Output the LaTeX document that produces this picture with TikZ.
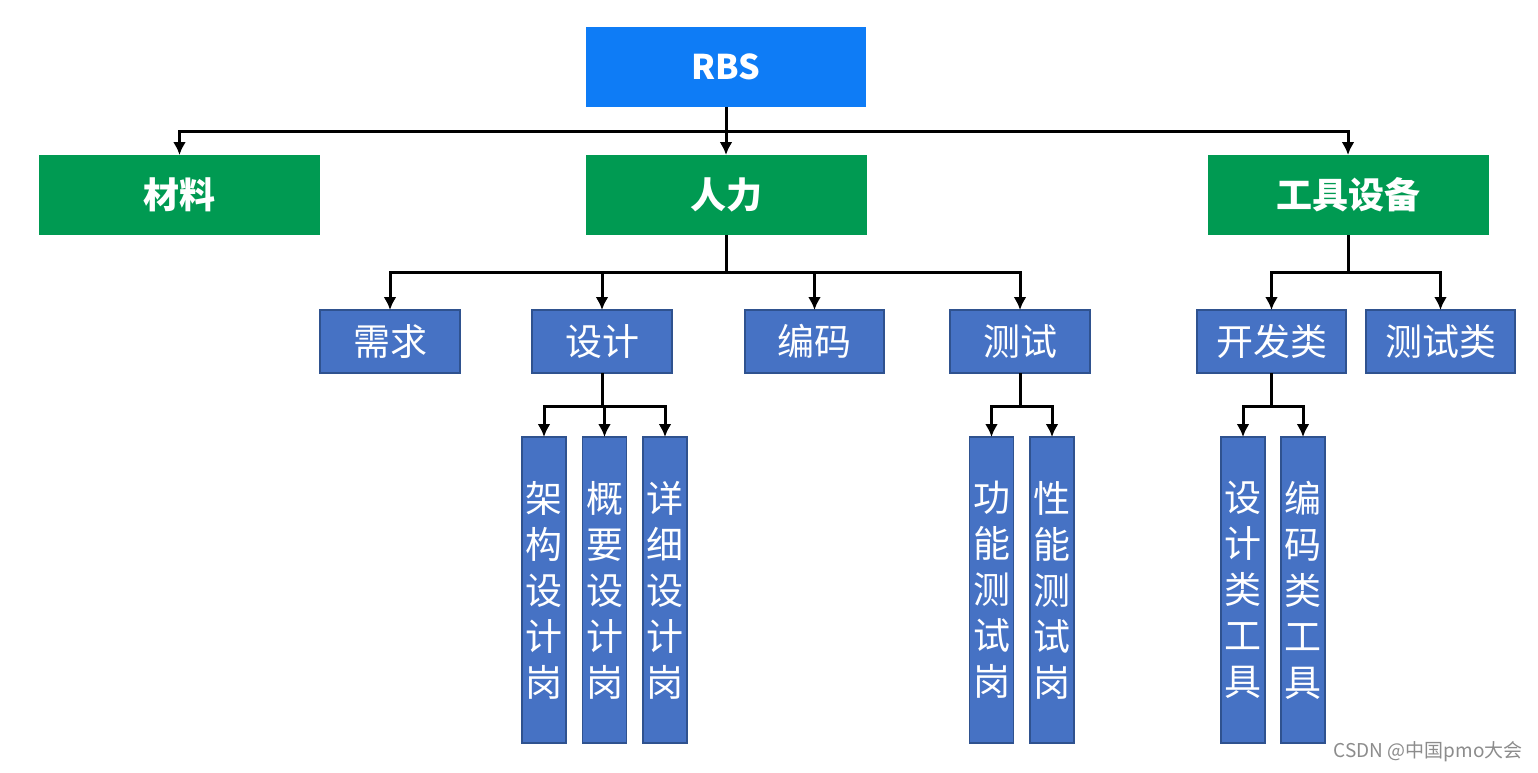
\documentclass[tikz,border=0pt]{standalone}
\usepackage{fontspec}
\setmainfont{Noto Sans CJK SC}
\usetikzlibrary{arrows.meta}
\definecolor{rbsblue}{RGB}{14,124,246}
\definecolor{lvgreen}{RGB}{0,154,82}
\definecolor{lvblue}{RGB}{70,114,196}
\definecolor{lvborder}{RGB}{47,82,143}
\begin{document}
\begin{tikzpicture}[x=1pt,y=-1pt,
  base/.style={inner sep=0pt, outer sep=0pt, text=white, align=center},
  topbox/.style={base, fill=rbsblue, minimum width=280pt, minimum height=80pt, font=\fontsize{34}{40}\selectfont\bfseries},
  greenbox/.style={base, fill=lvgreen, minimum width=281pt, minimum height=80pt, font=\fontsize{36}{40}\selectfont\bfseries},
  bluebox/.style={base, fill=lvblue, draw=lvborder, line width=1.2pt, minimum height=63pt, font=\fontsize{37}{40}\selectfont},
  vbox/.style={base, fill=lvblue, draw=lvborder, line width=1.2pt, minimum width=44pt, minimum height=306pt, font=\fontsize{37}{46}\selectfont},
  conn/.style={line width=3pt, black},
  arr/.style={conn, -{Latex[length=13pt,width=13pt]}}
]
\useasboundingbox (0,0) rectangle (1538,773);
\fill[white] (0,0) rectangle (1538,773);

% level 0
\node[topbox] (rbs) at (726,67) {RBS};
% level 1
\node[greenbox] (cl) at (179.5,195) {材料};
\node[greenbox] (rl) at (726,195) {人力};
\node[greenbox] (gj) at (1348,195) {工具设备};
% level 2
\node[bluebox, minimum width=140pt] (xq) at (390,341.5) {需求};
\node[bluebox, minimum width=140pt] (sj) at (602,341.5) {设计};
\node[bluebox, minimum width=139pt] (bm) at (814.5,341.5) {编码};
\node[bluebox, minimum width=140pt] (cs) at (1020,341.5) {测试};
\node[bluebox, minimum width=149pt] (kf) at (1271.5,341.5) {开发类};
\node[bluebox, minimum width=149pt] (csl) at (1440.5,341.5) {测试类};
% level 3
\node[vbox] (jg) at (544,590) {架\\构\\设\\计\\岗};
\node[vbox] (gy) at (604.5,590) {概\\要\\设\\计\\岗};
\node[vbox] (xx) at (665,590) {详\\细\\设\\计\\岗};
\node[vbox] (gn) at (991.5,590) {功\\能\\测\\试\\岗};
\node[vbox] (xn) at (1052,590) {性\\能\\测\\试\\岗};
\node[vbox] (sjgj) at (1243,590) {设\\计\\类\\工\\具};
\node[vbox] (bmgj) at (1303,590) {编\\码\\类\\工\\具};

% connectors
\coordinate (b0) at (726,131);
\draw[conn] (rbs.south) -- (b0);
\draw[arr] (b0) -| (cl.north);
\draw[arr] (b0) -- (rl.north);
\draw[arr] (b0) -| (gj.north);

\coordinate (b1) at (726,272);
\draw[conn] (rl.south) -- (b1);
\draw[arr] (b1) -| (xq.north);
\draw[arr] (b1) -| (sj.north);
\draw[arr] (b1) -| (bm.north);
\draw[arr] (b1) -| (cs.north);

\coordinate (b2) at (1348,272);
\draw[conn] (gj.south) -- (b2);
\draw[arr] (b2) -| (kf.north);
\draw[arr] (b2) -| (csl.north);

\coordinate (b3) at (602,406);
\draw[conn] (sj.south) -- (b3);
\draw[arr] (b3) -| (jg.north);
\draw[arr] (b3) -| (gy.north);
\draw[arr] (b3) -| (xx.north);

\coordinate (b4) at (1020,406);
\draw[conn] (cs.south) -- (b4);
\draw[arr] (b4) -| (gn.north);
\draw[arr] (b4) -| (xn.north);

\coordinate (b5) at (1271.5,406);
\draw[conn] (kf.south) -- (b5);
\draw[arr] (b5) -| (sjgj.north);
\draw[arr] (b5) -| (bmgj.north);

% watermark
\node[inner sep=0pt, anchor=east, text=black!45, font=\fontsize{19}{22}\selectfont] (wm) at (1523,752) {CSDN @中国pmo大会};
\end{tikzpicture}
\end{document}
